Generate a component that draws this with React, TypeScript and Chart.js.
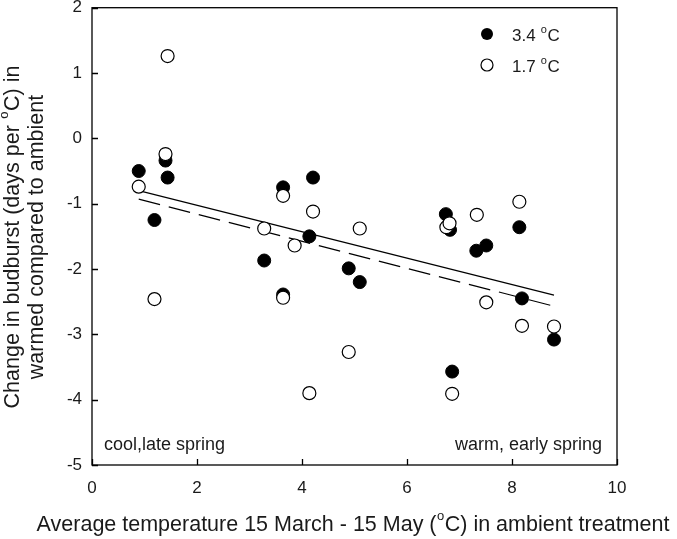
import React, { useEffect, useRef } from "react";
import { Chart, registerables } from "chart.js";
Chart.register(...registerables);

// 3.4 °C warming (filled circles)
const hotX = [0.89, 1.4, 1.44, 1.19, 3.28, 3.64, 3.64, 4.14, 4.21, 4.89, 5.1, 6.74, 6.82, 6.86, 7.32, 7.51, 8.14, 8.19, 8.8];
const hotY = [-0.5, -0.34, -0.6, -1.25, -1.87, -0.75, -2.39, -1.5, -0.6, -1.99, -2.2, -1.16, -1.4, -3.57, -1.72, -1.64, -1.36, -2.45, -3.08];
// 1.7 °C warming (open circles)
const mildX = [0.89, 1.19, 1.4, 1.44, 3.28, 3.64, 3.64, 3.86, 4.14, 4.21, 4.89, 5.1, 6.75, 6.81, 6.86, 7.33, 7.51, 8.14, 8.19, 8.8];
const mildY = [-0.74, -2.46, -0.24, 1.26, -1.38, -0.88, -2.44, -1.64, -3.9, -1.12, -3.27, -1.38, -1.36, -1.3, -3.91, -1.17, -2.51, -0.97, -2.87, -2.88];
// regression line end points
const fitX = [0.89, 8.8];
const fitHotY = [-0.8, -2.4];
const fitMildY = [-0.93, -2.57];

const xMin = 0, xMax = 10, xStep = 2;
const yMin = -5, yMax = 2, yStep = 1;

const legendLabels = ["3.4", "1.7"];
const xTitleParts = [
  { t: "Average temperature 15 March - 15 May (" },
  { t: "o", sup: true },
  { t: "C) in ambient treatment" },
];
const yTitleLine1 = [{ t: "Change in budburst (days per " }, { t: "o", sup: true }, { t: "C) in" }];
const yTitleLine2 = [{ t: "warmed compared to ambient" }];
const noteLeft = "cool,late spring";
const noteRight = "warm, early spring";

const FONT = "'Liberation Sans', Arial, sans-serif";
const TXT = "#1a1a1a";

type Part = { t: string; sup?: boolean };

function drawRich(ctx: CanvasRenderingContext2D, parts: Part[], x: number, y: number, size: number, align: "left" | "center" | "right") {
  const supSize = Math.round(size * 0.62);
  let total = 0;
  const widths = parts.map((p) => {
    ctx.font = `${p.sup ? supSize : size}px ${FONT}`;
    const w = ctx.measureText(p.t).width + (p.sup ? 1 : 0);
    total += w;
    return w;
  });
  let cx = align === "left" ? x : align === "center" ? x - total / 2 : x - total;
  ctx.textAlign = "left";
  ctx.textBaseline = "alphabetic";
  parts.forEach((p, i) => {
    ctx.font = `${p.sup ? supSize : size}px ${FONT}`;
    ctx.fillText(p.t, cx + (p.sup ? 0.5 : 0), p.sup ? y - size * 0.5 : y);
    cx += widths[i];
  });
}

const decorPlugin = {
  id: "decor",
  afterDraw(chart: any) {
    const { ctx, chartArea: a, scales } = chart;
    const xs = scales.x, ys = scales.y;
    ctx.save();
    ctx.strokeStyle = "#000";
    ctx.lineWidth = 1.3;
    ctx.strokeRect(a.left, a.top, a.right - a.left, a.bottom - a.top);
    ctx.beginPath();
    for (let v = xMin; v <= xMax; v += xStep) {
      const px = Math.round(xs.getPixelForValue(v)) + 0.5;
      ctx.moveTo(px, a.bottom);
      ctx.lineTo(px, a.bottom - 6);
    }
    for (let v = yMin; v <= yMax; v += yStep) {
      const py = Math.round(ys.getPixelForValue(v)) + 0.5;
      ctx.moveTo(a.left, py);
      ctx.lineTo(a.left + 6, py);
    }
    ctx.stroke();

    ctx.fillStyle = TXT;
    // legend
    const lx = 487;
    const rows = [34, 65];
    rows.forEach((ly, i) => {
      ctx.beginPath();
      ctx.arc(lx, ly, 6, 0, Math.PI * 2);
      if (i === 0) {
        ctx.fillStyle = "#000";
        ctx.fill();
      } else {
        ctx.fillStyle = "#fff";
        ctx.fill();
        ctx.lineWidth = 1.2;
        ctx.strokeStyle = "#000";
        ctx.stroke();
      }
      ctx.fillStyle = TXT;
      drawRich(ctx, [{ t: legendLabels[i] + " " }, { t: "o", sup: true }, { t: "C" }], 512, ly + 7, 17, "left");
    });

    // notes
    ctx.font = `18px ${FONT}`;
    ctx.textBaseline = "alphabetic";
    ctx.textAlign = "left";
    ctx.fillText(noteLeft, 104, 450);
    ctx.textAlign = "right";
    ctx.fillText(noteRight, 602, 450);

    // x title
    drawRich(ctx, xTitleParts, 353, 531, 21.5, "center");

    // y title
    ctx.save();
    ctx.rotate(-Math.PI / 2);
    drawRich(ctx, yTitleLine1, -237, 19, 21.5, "center");
    drawRich(ctx, yTitleLine2, -237, 43, 21.5, "center");
    ctx.restore();
    ctx.restore();
  },
};

export default function App() {
  const ref = useRef<HTMLCanvasElement>(null);
  useEffect(() => {
    const canvas = ref.current;
    if (!canvas) return;
    const chart = new Chart(canvas, {
      type: "scatter",
      data: {
        datasets: [
          {
            label: "1.7 °C",
            data: mildX.map((x, i) => ({ x, y: mildY[i] })),
            pointRadius: 6.5,
            pointBackgroundColor: "#fff",
            pointBorderColor: "#000",
            pointBorderWidth: 1.2,
            order: 0,
          },
          {
            label: "3.4 °C",
            data: hotX.map((x, i) => ({ x, y: hotY[i] })),
            pointRadius: 6.5,
            pointBackgroundColor: "#000",
            pointBorderColor: "#000",
            pointBorderWidth: 1,
            order: 1,
          },
          {
            type: "line",
            label: "fit 3.4",
            data: fitX.map((x, i) => ({ x, y: fitHotY[i] })),
            borderColor: "#000",
            borderWidth: 1.2,
            pointRadius: 0,
            showLine: true,
            order: 2,
          } as any,
          {
            type: "line",
            label: "fit 1.7",
            data: fitX.map((x, i) => ({ x, y: fitMildY[i] })),
            borderColor: "#000",
            borderWidth: 1.2,
            borderDash: [22, 9],
            pointRadius: 0,
            showLine: true,
            order: 3,
          } as any,
        ],
      },
      options: {
        animation: false,
        responsive: true,
        maintainAspectRatio: false,
        layout: { padding: { left: 0, top: 5, right: 60, bottom: 0 } },
        plugins: { legend: { display: false }, tooltip: { enabled: false } },
        scales: {
          x: {
            type: "linear",
            min: xMin,
            max: xMax,
            ticks: { stepSize: xStep, color: TXT, font: { family: FONT, size: 17 }, padding: 13 },
            grid: { display: false, drawTicks: false },
            border: { display: false },
            afterFit: (s: any) => {
              s.height = 74;
              s.paddingLeft = 0;
              s.paddingRight = 0;
            },
          },
          y: {
            type: "linear",
            min: yMin,
            max: yMax,
            ticks: { stepSize: yStep, color: TXT, font: { family: FONT, size: 17 }, padding: 10 },
            grid: { display: false, drawTicks: false },
            border: { display: false },
            afterFit: (s: any) => {
              s.width = 92;
              s.paddingTop = 0;
              s.paddingBottom = 0;
            },
          },
        },
      },
      plugins: [decorPlugin],
    });
    return () => chart.destroy();
  }, []);
  return (
    <div style={{ position: "fixed", left: 0, top: 0, width: 677, height: 539, background: "#fff" }}>
      <canvas ref={ref} />
    </div>
  );
}
